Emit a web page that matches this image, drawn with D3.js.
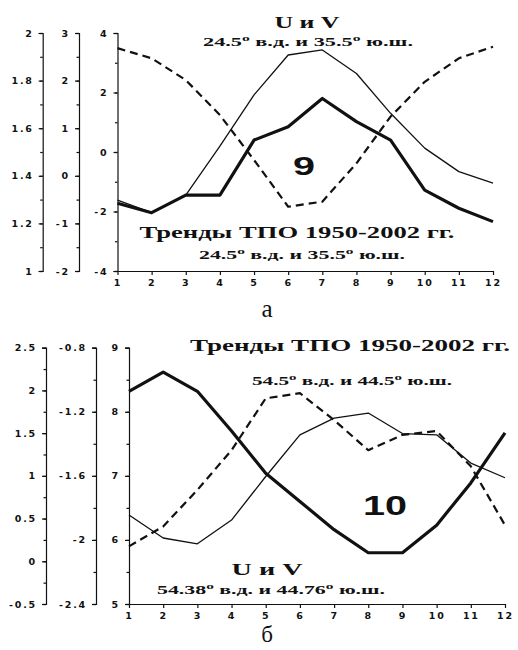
<!DOCTYPE html>
<html>
<head>
<meta charset="utf-8">
<script src="https://cdn.jsdelivr.net/npm/d3@7/dist/d3.min.js"></script>
<style>
  body { margin: 0; background: #fff; }
  .tick text { font-family: "DejaVu Sans", sans-serif; font-weight: bold; font-size: 9.5px; letter-spacing: 1.8px; fill: #111; }
  .domain, .tick line { stroke: #111; stroke-width: 1.2; }
  .ttl { font-family: "Liberation Serif", serif; font-weight: bold; fill: #111; }
</style>
</head>
<body>
<svg id="chart" width="518" height="650"></svg>
<script>
var months = [1, 2, 3, 4, 5, 6, 7, 8, 9, 10, 11, 12];

// panel a (24.5 E, 35.5 S) - values read on the inner axis (-4..4)
var aThin   = [-1.62, -2.04, -1.45, 0.2, 1.92, 3.26, 3.43, 2.64, 1.3, 0.13, -0.66, -1.05];
var aThick  = [-1.72, -2.04, -1.45, -1.45, 0.4, 0.85, 1.8, 1.02, 0.4, -1.28, -1.89, -2.34];
var aDashed = [3.49, 3.15, 2.42, 1.24, -0.27, -1.84, -1.67, -0.38, 1.19, 2.36, 3.15, 3.54];
var aAxis1Ticks = [1, 1.2, 1.4, 1.6, 1.8, 2];
var aAxis2Ticks = [-2, -1, 0, 1, 2, 3];
var aMainTicks  = [-4, -2, 0, 2, 4];

// panel b (54.5 E, 44.5 S) - values read on the inner axis (5..9)
var bThick  = [8.32, 8.62, 8.32, 7.7, 7.04, 6.6, 6.16, 5.8, 5.8, 6.23, 6.89, 7.67];
var bThin   = [6.39, 6.03, 5.94, 6.31, 6.99, 7.64, 7.9, 7.98, 7.66, 7.64, 7.2, 6.97];
var bDashed = [5.9, 6.21, 6.78, 7.4, 8.21, 8.29, 7.87, 7.4, 7.64, 7.7, 7.15, 6.23];
var bAxis1Ticks = [-0.5, 0, 0.5, 1, 1.5, 2, 2.5];
var bAxis2Ticks = [-2.4, -2, -1.6, -1.2, -0.8];
var bMainTicks  = [5, 6, 7, 8, 9];

var svg = d3.select("#chart");

function createPanel(p) {
  var g = svg.append("g");
  var y;
  p.axes.forEach(function(a, i) {
    var scale = d3.scaleLinear().domain(a.domain).range([p.bottom, p.top]);
    var minor = d3.range(a.domain[0], a.domain[1] + 1e-9, a.minor);
    g.append("g")
      .attr("transform", "translate(" + a.x + ",0)")
      .call(d3.axisLeft(scale).tickValues(minor).tickSize(2.5).tickFormat(""))
      .select(".domain").remove();
    g.append("g")
      .attr("transform", "translate(" + a.x + ",0)")
      .call(d3.axisLeft(scale).tickValues(a.ticks).tickSize(4).tickPadding(5)
        .tickFormat(function(d) { return String(d); }));
    if (i == p.axes.length - 1) y = scale;
  });

  var x = d3.scaleLinear().domain([1, 12]).range([p.left, p.right]);
  g.append("g")
    .attr("transform", "translate(0," + p.bottom + ")")
    .call(d3.axisBottom(x).tickValues(months).tickSize(4).tickSizeOuter(0).tickPadding(4)
      .tickFormat(function(d) { return String(d); }));

  var line = d3.line()
    .x(function(d, i) { return x(months[i]); })
    .y(function(d) { return y(d); });

  p.series.forEach(function(s) {
    g.append("path")
      .datum(s.values)
      .attr("d", line)
      .attr("fill", "none")
      .attr("stroke", "#111")
      .attr("stroke-width", s.width)
      .attr("stroke-linejoin", "round")
      .attr("stroke-dasharray", s.dash || null);
  });
}

// text with raised "o" where the string has a degree sign
function title(txt, cx, y, size, width, cls) {
  var t = svg.append("text")
    .attr("class", cls || "ttl")
    .attr("x", cx).attr("y", y)
    .attr("text-anchor", "middle")
    .style("font-size", size + "px");
  var parts = txt.split("°");
  parts.forEach(function(s, i) {
    t.append("tspan").text(s).attr("dy", i > 0 ? size * 0.35 : null);
    if (i < parts.length - 1) {
      t.append("tspan").text("o").style("font-size", (size * 0.7) + "px").attr("dy", -size * 0.35);
    }
  });
  if (width) t.attr("textLength", width).attr("lengthAdjust", "spacingAndGlyphs");
  return t;
}

createPanel({
  top: 33, bottom: 271, left: 117.5, right: 493,
  axes: [
    {x: 42.7, domain: [1, 2], ticks: aAxis1Ticks, minor: 0.1},
    {x: 79, domain: [-2, 3], ticks: aAxis2Ticks, minor: 0.5},
    {x: 117.5, domain: [-4, 4], ticks: aMainTicks, minor: 1}
  ],
  series: [
    {values: aThin, width: 1.3},
    {values: aThick, width: 3.2},
    {values: aDashed, width: 2.2, dash: "8,5"}
  ]
});

createPanel({
  top: 347.7, bottom: 604, left: 129, right: 505,
  axes: [
    {x: 46, domain: [-0.5, 2.5], ticks: bAxis1Ticks, minor: 0.25},
    {x: 96, domain: [-2.4, -0.8], ticks: bAxis2Ticks, minor: 0.2},
    {x: 129, domain: [5, 9], ticks: bMainTicks, minor: 0.5}
  ],
  series: [
    {values: bThin, width: 1.3},
    {values: bThick, width: 3.2},
    {values: bDashed, width: 2.2, dash: "8,5"}
  ]
});

// panel a labels
title("U и V", 307, 28, 17, 65);
title("24.5° в.д. и 35.5° ю.ш.", 308, 46, 13, 210);
title("Тренды ТПО 1950-2002 гг.", 297, 238, 17, 315);
title("24.5° в.д. и 35.5° ю.ш.", 302, 259, 13, 206);
title("9", 304, 175, 25, 22).style("font-family", "Liberation Sans, sans-serif");
title("а", 267, 317, 25).style("font-weight", "normal");

// panel b labels
title("Тренды ТПО 1950-2002 гг.", 350, 351, 17, 320);
title("54.5° в.д. и 44.5° ю.ш.", 352, 385, 13, 200);
title("U и V", 267, 575, 17, 71);
title("54.38° в.д. и 44.76° ю.ш.", 271, 594, 13, 228);
title("10", 385, 515, 28, 44).style("font-family", "Liberation Sans, sans-serif");
title("б", 267, 642, 23).style("font-weight", "normal");
</script>
</body>
</html>
